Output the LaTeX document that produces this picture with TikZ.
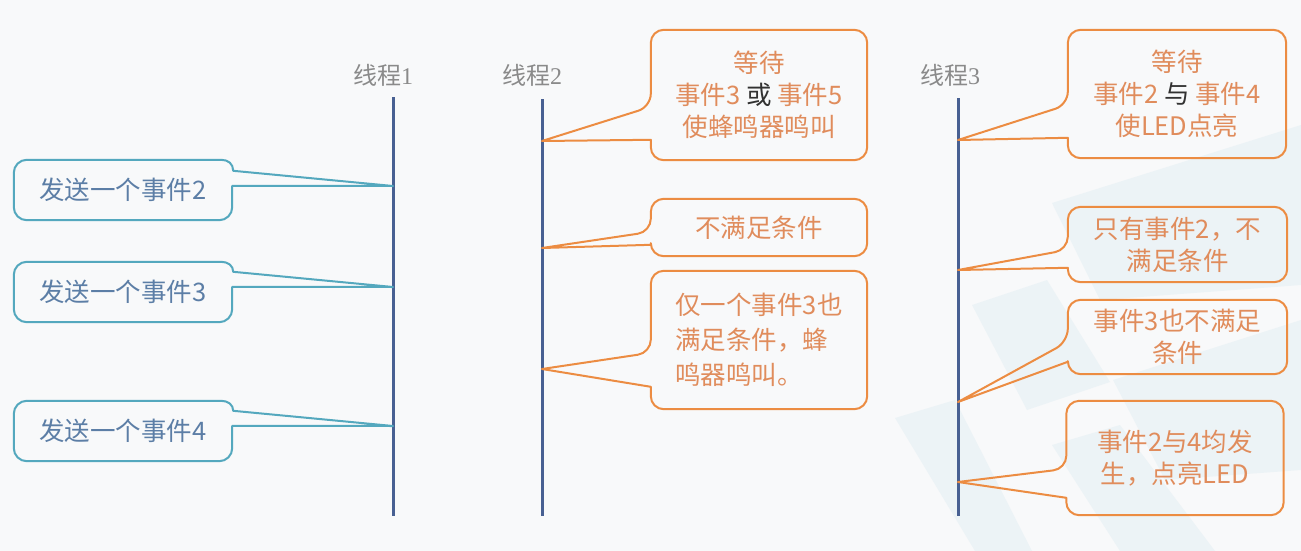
\documentclass[tikz,border=0pt]{standalone}
\usepackage{fontspec}
\setmainfont{Noto Sans CJK SC}
\newfontfamily\serifnum{Liberation Serif}
\usetikzlibrary{calc}
\definecolor{bgc}{RGB}{248,249,250}
\definecolor{wmc}{RGB}{236,243,246}
\definecolor{tealc}{RGB}{84,168,190}
\definecolor{txtblue}{RGB}{92,126,166}
\definecolor{orgc}{RGB}{236,140,66}
\definecolor{txtorg}{RGB}{224,140,92}
\definecolor{threadc}{RGB}{72,96,146}
\definecolor{graytxt}{RGB}{138,138,138}
\definecolor{darkc}{RGB}{50,50,50}
\tikzset{
  cbox/.style={inner sep=0pt, align=center, font=\fontsize{25.5}{32}\selectfont},
  bluebox/.style={cbox, text=txtblue},
  orgbox/.style={cbox, text=txtorg},
  blueline/.style={draw=tealc, line width=2pt, line join=round},
  orgline/.style={draw=orgc, line width=2pt, rounded corners=13pt, line join=round},
  thread/.style={draw=threadc, line width=3pt},
  tlabel/.style={text=graytxt, font=\fontsize{24}{28}\selectfont, inner sep=0pt},
  wm/.style={fill=wmc}
}
% callout outline, pointer on the west side: node, tip, d1, d2, style
\newcommand\calloutW[5]{\draw[#5] ($(#1.north west)+(0,#4)$) -- (#1.south west) -- (#1.south east) -- (#1.north east) -- (#1.north west) -- ($(#1.north west)+(0,#3)$) [sharp corners] -- (#2) -- cycle;}
% callout outline, pointer on the east side (upper pointer edge starts at the top corner)
\newcommand\calloutE[5]{\draw[#5] ($(#1.north east)+(0,#4)$)
  -- ($(#1.south east)+(0,-13)$) .. controls ($(#1.south east)+(0,-5.8)$) and ($(#1.south east)+(-5.8,0)$) .. ($(#1.south east)+(-13,0)$)
  -- ($(#1.south west)+(13,0)$) .. controls ($(#1.south west)+(5.8,0)$) and ($(#1.south west)+(0,-5.8)$) .. ($(#1.south west)+(0,-13)$)
  -- ($(#1.north west)+(0,13)$) .. controls ($(#1.north west)+(0,5.8)$) and ($(#1.north west)+(5.8,0)$) .. ($(#1.north west)+(13,0)$)
  -- ($(#1.north east)+(-11,0)$) .. controls ($(#1.north east)+(-4,0)$) and ($(#1.north east)+(1,4)$) .. ($(#1.north east)+(1,#3)$)
  -- (#2) -- cycle;}
\begin{document}
\begin{tikzpicture}[x=1pt,y=-1pt]
\fill[bgc] (0,0) rectangle (1301,551);
\useasboundingbox (0,0) rectangle (1301,551);
% watermark shapes
\fill[wm] (1052,203) -- (1301,125) -- (1301,285) -- (1100,300) -- cycle;
\fill[wm] (972,305) -- (1047,280) -- (1110,382) -- (1027,410) -- cycle;
\fill[wm] (895,418) -- (955,400) -- (1032,551) -- (975,551) -- cycle;
\fill[wm] (1113,380) -- (1301,320) -- (1301,470) -- (1165,480) -- cycle;
\fill[wm] (1052,445) -- (1120,425) -- (1215,551) -- (1120,551) -- cycle;
% threads
\coordinate (th1a) at (393,97);  \coordinate (th1b) at (393,516);
\coordinate (th2a) at (542,99);  \coordinate (th2b) at (542,516);
\coordinate (th3a) at (958,98);  \coordinate (th3b) at (958,516);
\draw[thread] (th1a) -- (th1b);
\draw[thread] (th2a) -- (th2b);
\draw[thread] (th3a) -- (th3b);
\node[tlabel] (lab1) at (383,75) {线程{\serifnum 1}};
\node[tlabel] (lab2) at (532,75) {线程{\serifnum 2}};
\node[tlabel] (lab3) at (950,75) {线程{\serifnum 3}};
% tip coordinates
\coordinate (p1a) at (393,186);
\coordinate (p1b) at (393,287);
\coordinate (p1c) at (393,426);
\coordinate (p2a) at (542,141);
\coordinate (p2b) at (542,248);
\coordinate (p2c) at (542,369);
\coordinate (p3a) at (958,140);
\coordinate (p3b) at (958,270);
\coordinate (p3c) at (958,402);
\coordinate (p3d) at (958,482);
% left boxes
\node[bluebox, minimum width=218, minimum height=60] (l1) at (123,190) {发送一个事件2};
\node[bluebox, minimum width=218, minimum height=60] (l2) at (123,292) {发送一个事件3};
\node[bluebox, minimum width=218, minimum height=60] (l3) at (123,431) {发送一个事件4};
\calloutE{l1}{p1a}{11}{26}{blueline}
\calloutE{l2}{p1b}{10}{25}{blueline}
\calloutE{l3}{p1c}{10}{25}{blueline}
% thread 2 boxes
\node[orgbox, minimum width=216, minimum height=130] (a) at (759,95) {等待\\事件3 {\color{darkc}或} 事件5\\使蜂鸣器鸣叫};
\node[orgbox, minimum width=216, minimum height=57] (b) at (759,227.5) {不满足条件};
\node[orgbox, minimum width=216, minimum height=138, align=left, font=\fontsize{25.5}{35}\selectfont] (c) at (759,340) {仅一个事件3也\\满足条件，蜂\\鸣器鸣叫。};
\calloutW{a}{p2a}{77}{110}{orgline}
\calloutW{b}{p2b}{33}{46}{orgline}
\calloutW{c}{p2c}{82}{116}{orgline}
% thread 3 boxes
\node[orgbox, minimum width=218, minimum height=128] (d) at (1177,94) {等待\\事件2 {\color{darkc}与} 事件4\\使LED点亮};
\node[orgbox, minimum width=219, minimum height=75] (e) at (1177.5,244.5) {只有事件2，不\\满足条件};
\node[orgbox, minimum width=219, minimum height=74] (f) at (1177.5,337) {事件3也不满足\\条件};
\node[orgbox, minimum width=217, minimum height=114] (g) at (1175,458) {事件2与4均发\\生，点亮LED};
\calloutW{d}{p3a}{75}{108}{orgline}
\calloutW{e}{p3b}{43}{61}{orgline}
\calloutW{f}{p3c}{42}{62}{orgline}
\calloutW{g}{p3d}{68}{97}{orgline}
\end{tikzpicture}
\end{document}
